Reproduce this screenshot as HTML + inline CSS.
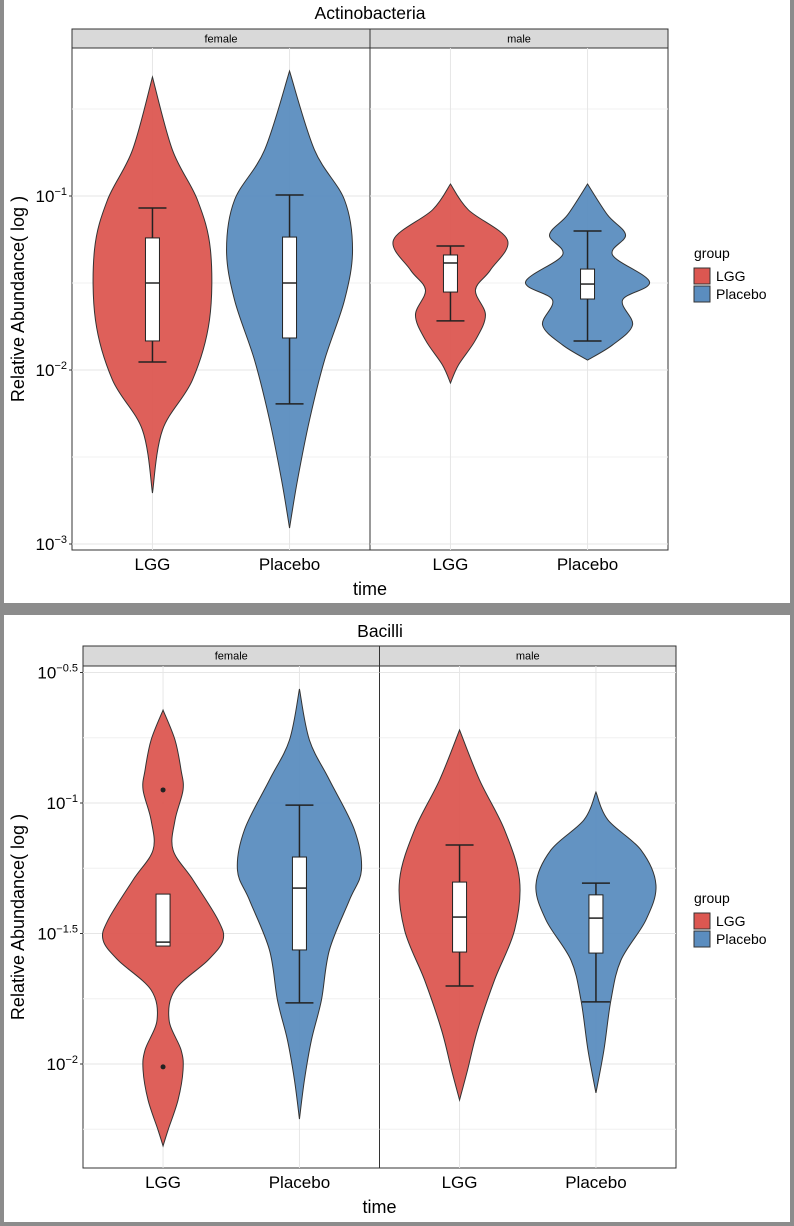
<!DOCTYPE html>
<html><head><meta charset="utf-8"><style>
body{margin:0;background:#8c8c8c;width:794px;height:1226px;overflow:hidden;font-family:"Liberation Sans",sans-serif}
svg{position:absolute;left:0;top:0}
</style></head><body>
<svg id="s" width="794" height="1226" xmlns="http://www.w3.org/2000/svg"></svg>
<script>
// ---- data ----
const facets = ["female","male"];
const groups = ["LGG","Placebo"];
// violin profiles: log10 abundance values and relative density
const topFemLGG_y = [-0.316,-0.736,-1.023,-1.310,-1.713,-2.057,-2.345,-2.707];
const topFemLGG_d = [0,20,45,58,57,40,10,0];
const topFemPla_y = [-0.282,-0.736,-1.023,-1.310,-1.598,-1.943,-2.287,-2.632,-2.908];
const topFemPla_d = [0,25,55,63,55,35,20,8,0];
const topMalLGG_y = [-0.931,-1.080,-1.253,-1.425,-1.540,-1.684,-1.828,-1.971,-2.075];
const topMalLGG_d = [0,18,57,40,25,35,25,8,0];
const topMalPla_y = [-0.931,-1.109,-1.224,-1.339,-1.494,-1.598,-1.741,-1.856,-1.943];
const topMalPla_d = [0,20,38,25,62,35,45,25,0];
// box stats: [whiskerLow, Q1, median, Q3, whiskerHigh]
const topBoxes = [[-1.954,-1.833,-1.5,-1.241,-1.069],[-2.195,-1.816,-1.5,-1.236,-0.994],[-1.718,-1.552,-1.385,-1.339,-1.287],[-1.833,-1.592,-1.506,-1.420,-1.201]];
const botFemLGG_y = [-0.644,-0.759,-0.874,-0.950,-1.065,-1.180,-1.295,-1.448,-1.525,-1.602,-1.716,-1.831,-1.946,-2.023,-2.138,-2.253,-2.314];
const botFemLGG_d = [0,12,18,20,12,10,30,55,60,45,12,6,18,20,15,5,0];
const botFemPla_y = [-0.563,-0.759,-0.912,-1.103,-1.257,-1.372,-1.563,-1.755,-1.908,-2.061,-2.211];
const botFemPla_d = [0,10,30,55,62,50,30,22,12,5,0];
const botMalLGG_y = [-0.720,-0.912,-1.103,-1.295,-1.487,-1.678,-1.870,-2.023,-2.138];
const botMalLGG_d = [0,20,45,60,55,35,18,8,0];
const botMalPla_y = [-0.958,-1.065,-1.180,-1.314,-1.448,-1.602,-1.755,-1.946,-2.111];
const botMalPla_d = [0,12,45,60,50,25,15,8,0];
const botBoxes = [[-1.548,-1.548,-1.533,-1.349,-1.349],[-1.766,-1.563,-1.326,-1.207,-1.008],[-1.701,-1.571,-1.437,-1.303,-1.161],[-1.762,-1.575,-1.441,-1.352,-1.307]];
const botOutliers = [[0,-0.950],[0,-2.011]];
const topTicks = [-1,-2,-3], topTickLabels = ["\u22121","\u22122","\u22123"];
const botTicks = [-0.5,-1,-1.5,-2], botTickLabels = ["\u22120.5","\u22121","\u22121.5","\u22122"];
const colors = ["#dc5751","#5b8dbf"];

const S = document.getElementById('s');
const NS = "http://www.w3.org/2000/svg";
function el(tag, attrs, parent){const e=document.createElementNS(NS,tag);for(const k in attrs)e.setAttribute(k,attrs[k]);(parent||S).appendChild(e);return e;}
function txt(x,y,str,size,anchor,parent){const t=el('text',{x:x,y:y,'font-size':size,'text-anchor':anchor||'middle',fill:'#000'},parent);t.textContent=str;return t;}

function smooth(pts){let d="M"+pts[0][0]+","+pts[0][1];for(let i=0;i<pts.length-1;i++){const p0=pts[i-1]||pts[i],p1=pts[i],p2=pts[i+1],p3=pts[i+2]||p2;const c1=[p1[0]+(p2[0]-p0[0])/6,p1[1]+(p2[1]-p0[1])/6],c2=[p2[0]-(p3[0]-p1[0])/6,p2[1]-(p3[1]-p1[1])/6];d+=` C${c1[0]},${c1[1]} ${c2[0]},${c2[1]} ${p2[0]},${p2[1]}`;}return d;}

function panel(cfg){
  const g=el('g',{});  
  const card=el('rect',{x:4,y:cfg.cardY,width:786,height:cfg.cardH,fill:'#fff'},g);
  
  const y=v=>cfg.y0-cfg.k*(v-cfg.ref);
  const t=txt(cfg.titleX,cfg.titleY,cfg.title,17.5,'middle',g);
  const fw=(cfg.x1-cfg.x0)/2;
  facets.forEach((f,fi)=>{
    const fx=cfg.x0+fi*fw;
    const fg=el('g',{},g);
    el('rect',{x:fx,y:cfg.stripY,width:fw,height:cfg.plotT-cfg.stripY,fill:'#d9d9d9',stroke:'#333','stroke-width':1},fg);
    const st=txt(fx+fw/2,cfg.stripY+13.5,f,11,'middle',fg);
    el('rect',{x:fx,y:cfg.plotT,width:fw,height:cfg.plotB-cfg.plotT,fill:'#fff',stroke:'#333','stroke-width':1},fg);
    cfg.minor.forEach(v=>el('line',{x1:fx,x2:fx+fw,y1:y(v),y2:y(v),stroke:'#f0f0f0','stroke-width':1},fg));
    cfg.ticks.forEach(v=>el('line',{x1:fx,x2:fx+fw,y1:y(v),y2:y(v),stroke:'#e6e6e6','stroke-width':1},fg));
    groups.forEach((gname,gi)=>{
      const cx=fx+fw*(gi===0?0.27:0.73);
      el('line',{x1:cx,x2:cx,y1:cfg.plotT,y2:cfg.plotB,stroke:'#e6e6e6','stroke-width':1},fg);
      const idx=fi*2+gi;
      const vy=cfg.vy[idx],vd=cfg.vd[idx];
      const right=vy.map((v,i)=>[cx+vd[i],y(v)]), left=vy.map((v,i)=>[cx-vd[i],y(v)]).reverse();
      const d=smooth(right)+" L"+smooth(left).slice(1)+"Z";
      const vp=el('path',{d:d,fill:colors[gi],'fill-opacity':0.95,stroke:'#333','stroke-width':1},fg);
      
      const b=cfg.boxes[idx];
      const bg=el('g',{},fg);
      if(b[0]<b[1]){
        el('line',{x1:cx,x2:cx,y1:y(b[0]),y2:y(b[1]),stroke:'#222','stroke-width':1.5},bg);
        el('line',{x1:cx-14,x2:cx+14,y1:y(b[0]),y2:y(b[0]),stroke:'#222','stroke-width':1.5},bg);
      }
      if(b[4]>b[3]){
        el('line',{x1:cx,x2:cx,y1:y(b[3]),y2:y(b[4]),stroke:'#222','stroke-width':1.5},bg);
        el('line',{x1:cx-14,x2:cx+14,y1:y(b[4]),y2:y(b[4]),stroke:'#222','stroke-width':1.5},bg);
      }
      el('rect',{x:cx-7,y:y(b[3]),width:14,height:y(b[1])-y(b[3]),fill:'#fff',stroke:'#222','stroke-width':1},bg);
      el('line',{x1:cx-7,x2:cx+7,y1:y(b[2]),y2:y(b[2]),stroke:'#222','stroke-width':1.5},bg);
      (cfg.outliers||[]).forEach(o=>{if(o[0]===idx){const c=el('circle',{cx:cx,cy:y(o[1]),r:2.5,fill:'#222'},bg);}});
      const xl=txt(cx,cfg.plotB+20,gname,17,'middle',g);
    });
  });
  cfg.ticks.forEach((v,i)=>{
    el('line',{x1:cfg.x0-3,x2:cfg.x0,y1:y(v),y2:y(v),stroke:'#333'},g);
    const tl=el('text',{x:cfg.x0-5,y:y(v)+6,'font-size':17,'text-anchor':'end'},g);
    
    tl.innerHTML='10<tspan dy="-7" font-size="11">'+cfg.tickLabels[i]+'</tspan>';
  });
  const yt=txt(0,0,'Relative Abundance( log )',18,'middle',g);
  yt.setAttribute('transform',`translate(${cfg.ytX},${(cfg.plotT+cfg.plotB)/2}) rotate(-90)`);
  
  const xt=txt((cfg.x0+cfg.x1)/2,cfg.plotB+45,'time',18,'middle',g);
  const lg=el('g',{},g);
  txt(694,cfg.legY,'group',14,'start',lg);
  groups.forEach((gname,gi)=>{
    const ky=cfg.legY+10+gi*18;
    const k=el('rect',{x:694,y:ky,width:16,height:16,fill:colors[gi],stroke:'#333','stroke-width':1},lg);
    
    txt(716,ky+13,gname,14,'start',lg);
  });
}
panel({name:'actinobacteria-panel',cardY:0,cardH:603,title:'Actinobacteria',titleX:370,titleY:19,
  x0:72,x1:668,stripY:29,plotT:48,plotB:550,y0:196,ref:-1,k:174,
  ticks:topTicks,tickLabels:topTickLabels,minor:[-0.5,-1.5,-2.5],
  vy:[topFemLGG_y,topFemPla_y,topMalLGG_y,topMalPla_y],vd:[topFemLGG_d,topFemPla_d,topMalLGG_d,topMalPla_d],
  boxes:topBoxes,ytX:24,legY:258});
panel({name:'bacilli-panel',cardY:615,cardH:607,title:'Bacilli',titleX:380,titleY:637,
  x0:83,x1:676,stripY:646,plotT:666,plotB:1168,y0:803,ref:-1,k:261,
  ticks:botTicks,tickLabels:botTickLabels,minor:[-0.75,-1.25,-1.75,-2.25],
  vy:[botFemLGG_y,botFemPla_y,botMalLGG_y,botMalPla_y],vd:[botFemLGG_d,botFemPla_d,botMalLGG_d,botMalPla_d],
  boxes:botBoxes,outliers:botOutliers,ytX:24,legY:903});
</script>
</body></html>
